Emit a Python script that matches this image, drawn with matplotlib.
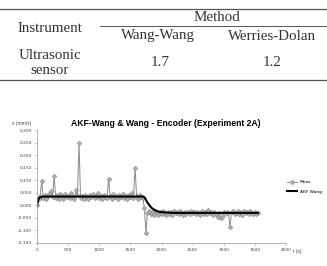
import numpy as np
import matplotlib
matplotlib.use('Agg')
import matplotlib.pyplot as plt
from matplotlib.ticker import FuncFormatter

# table contents
col_header = 'Method'
row_header = 'Instrument'
methods = ['Wang-Wang', 'Werries-Dolan']
instrument = 'Ultrasonic\nsensor'
method_values = ['1.7', '1.2']

# measured velocity (mm/s), one sample every 25 s
meas_before = [
    0.000, 0.027, 0.036, 0.096, 0.031, 0.042, 0.026, 0.039, 0.045, 0.058,
    0.033, 0.118, 0.029, 0.041, 0.027, 0.044, 0.036, 0.024, 0.046, 0.032,
    0.039, 0.028, 0.050, 0.035, 0.026, 0.060, 0.040, 0.250, 0.030, 0.038,
    0.027, 0.043, 0.034, 0.025, 0.040, 0.032, 0.045, 0.028, 0.037, 0.048,
    0.030, 0.036, 0.026, 0.042, 0.034, 0.031, 0.105, 0.038, 0.027, 0.044,
    0.032, 0.037, 0.025, 0.041, 0.035, 0.047, 0.029, 0.038, 0.026, 0.042,
    0.034, 0.049, 0.031, 0.150, 0.037, 0.027, 0.043, 0.033, 0.029,
]
meas_after = [
    -0.010, -0.109, -0.030, -0.022, -0.036, -0.026, -0.038, -0.024, -0.031, -0.040,
    -0.027, -0.034, -0.022, -0.030, -0.037, -0.025, -0.033, -0.028, -0.039, -0.023,
    -0.031, -0.027, -0.035, -0.021, -0.030, -0.038, -0.026, -0.033, -0.028, -0.036,
    -0.022, -0.031, -0.027, -0.034, -0.025, -0.030, -0.039, -0.024, -0.033, -0.028,
    -0.035, -0.020, -0.031, -0.026, -0.037, -0.028, -0.034, -0.048, -0.030, -0.052,
    -0.045, -0.027, -0.035, -0.025, -0.031, -0.086, -0.028, -0.023, -0.036, -0.030,
    -0.021, -0.034, -0.026, -0.037, -0.024, -0.031, -0.027, -0.035, -0.022, -0.030,
    -0.036, -0.025, -0.033, -0.029,
]
meas = meas_before + meas_after
t_meas = np.arange(len(meas)) * 25

# AKF Wang estimate
akf_t = [0, 20, 40, 70, 120, 1710, 1730, 1750, 1775, 1800, 1825, 1850, 1900, 1950, 2000, 2100, 2200, 3550]
akf_v = [0.000, 0.022, 0.031, 0.034, 0.035, 0.035, 0.031, 0.022, 0.011, 0.002, -0.006, -0.012,
         -0.020, -0.025, -0.027, -0.029, -0.030, -0.030]

fig = plt.figure(figsize=(3.27, 2.66), dpi=100)
W, H = 327, 266

def fx(px):
    return px / W

def fy(py):
    return 1 - py / H

# ---- table on top ----
serif = 'Liberation Serif'
tcol = '#333333'
fig.add_artist(plt.Line2D([0, 1], [fy(9), fy(9)], color='#555555', lw=0.9))
fig.add_artist(plt.Line2D([fx(100), 1], [fy(26), fy(26)], color='#555555', lw=0.7))
fig.add_artist(plt.Line2D([0, 1], [fy(80), fy(80)], color='#555555', lw=0.9))
fs = 10.8
fig.text(fx(217), fy(17.5), col_header, ha='center', va='center', family=serif, fontsize=fs, color=tcol)
fig.text(fx(50), fy(28), row_header, ha='center', va='center', family=serif, fontsize=fs, color=tcol)
fig.text(fx(158), fy(36), methods[0], ha='center', va='center', family=serif, fontsize=fs, color=tcol)
fig.text(fx(272), fy(36), methods[1], ha='center', va='center', family=serif, fontsize=fs, color=tcol)
fig.text(fx(50), fy(63), instrument, ha='center', va='center', family=serif, fontsize=fs,
         linespacing=1.15, color=tcol)
fig.text(fx(160), fy(63), method_values[0], ha='center', va='center', family=serif, fontsize=fs, color=tcol)
fig.text(fx(272), fy(63), method_values[1], ha='center', va='center', family=serif, fontsize=fs, color=tcol)

# ---- chart ----
ax = fig.add_axes([fx(37), fy(243), fx(286) - fx(37), fy(130) - fy(243)])
ax.plot(t_meas, meas, color='#8a8a8a', lw=0.7, marker='D', ms=2.4, mec='#8a8a8a', mfc='#b0b0b0',
        mew=0.4, label='Meas')
ax.plot(akf_t, akf_v, color='black', lw=1.5, label='AKF Wang')

ax.set_xlim(0, 4000)
ax.set_ylim(-0.15, 0.30)
ax.set_xticks(np.arange(0, 4001, 500))
ax.set_yticks(np.arange(-0.15, 0.301, 0.05))
ax.yaxis.set_major_formatter(FuncFormatter(lambda v, p: f'{v:.3f}'.replace('.', ',').replace('-0,000', '0,000')))
ax.tick_params(labelsize=3.2, length=1.5, width=0.4, color='#888888', labelcolor='#444444', pad=2)
for s in ['top', 'right']:
    ax.spines[s].set_visible(False)
for s in ['left', 'bottom']:
    ax.spines[s].set_color('#999999')
    ax.spines[s].set_linewidth(0.5)

fig.text(fx(166), fy(124), 'AKF-Wang & Wang - Encoder (Experiment 2A)', ha='center', va='center',
         family='Liberation Sans', fontsize=6.2, fontweight='bold')
fig.text(fx(12), fy(123), 'v (mm/s)', ha='left', va='center', family='Liberation Sans',
         fontsize=3.5, color='#444444')
fig.text(fx(293), fy(252), 't (s)', ha='left', va='center', family='Liberation Sans',
         fontsize=3.5, color='#444444')

ax.legend(loc='center left', bbox_to_anchor=(fx(285), fy(187)), bbox_transform=fig.transFigure,
          frameon=False, fontsize=3.2, handlelength=2.2, labelspacing=1.2, borderaxespad=0)

fig.savefig('out.png', dpi=100)
